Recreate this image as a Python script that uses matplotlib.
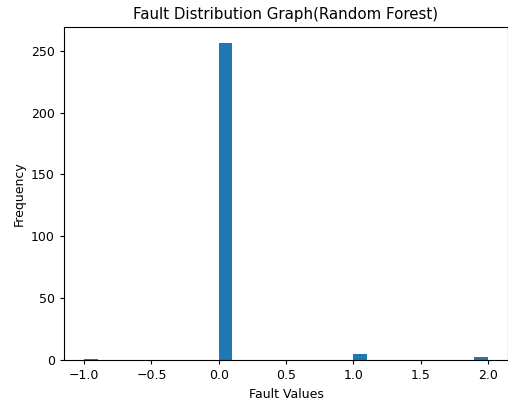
import numpy as np
import matplotlib
matplotlib.use('Agg')
import matplotlib.pyplot as plt

# fault predictions and how often each occurred
fault_levels = [-1, 0, 1, 2]
fault_counts = [1, 256, 5, 2]

faults = np.repeat(fault_levels, fault_counts)

plt.rcParams['font.size'] = 9
plt.rcParams['axes.titlesize'] = 10.8
plt.rcParams['xtick.major.size'] = 3.2
plt.rcParams['ytick.major.size'] = 3.2

fig = plt.figure(figsize=(5.08, 4.03), dpi=100)
ax = fig.add_axes([0.126, 0.107, 0.874, 0.825])
ax.hist(faults, bins=30)
ax.set_title('Fault Distribution Graph(Random Forest)')
ax.set_xlabel('Fault Values')
ax.set_ylabel('Frequency')

fig.savefig('out.png', dpi=100)
